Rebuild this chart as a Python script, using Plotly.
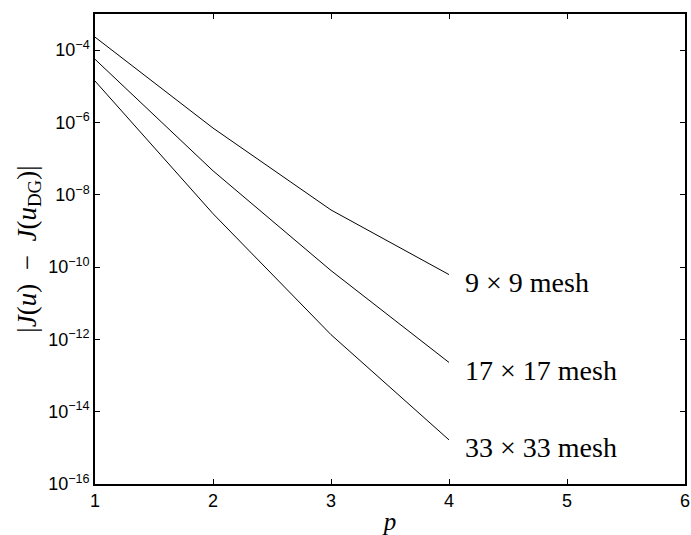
import plotly.graph_objects as go

p = [1, 2, 3, 4]
err_9 = [2.3e-4, 7.0e-7, 3.8e-9, 6.2e-11]
err_17 = [5.6e-5, 4.6e-8, 8.0e-11, 2.3e-13]
err_33 = [1.4e-5, 3.0e-9, 1.35e-12, 1.66e-15]
labels = ["9 × 9 mesh", "17 × 17 mesh", "33 × 33 mesh"]
label_y = [-10.43, -12.86, -14.99]  # log10 positions of the labels
ytick_exp = [-16, -14, -12, -10, -8, -6, -4]
xticks = [1, 2, 3, 4, 5, 6]

fig = go.Figure()
for ys in (err_9, err_17, err_33):
    fig.add_trace(go.Scatter(x=p, y=ys, mode="lines",
                             line=dict(color="black", width=1), showlegend=False))

for lab, ly in zip(labels, label_y):
    fig.add_annotation(x=4.12, y=ly, xref="x", yref="y", text=lab, showarrow=False,
                       xanchor="left", yanchor="middle",
                       font=dict(family="Liberation Serif", size=28, color="black"))

tickfont = dict(family="Liberation Sans", size=18, color="black")
fig.update_layout(
    width=691, height=535,
    margin=dict(l=95, r=1, t=14, b=51),
    plot_bgcolor="white", paper_bgcolor="white",
    xaxis=dict(range=[1, 6], tickvals=xticks, ticks="inside", ticklen=5,
               tickcolor="black", showline=True, linecolor="black", linewidth=1.5,
               mirror="ticks", showgrid=False, zeroline=False, tickfont=tickfont,
               ticklabeloverflow="allow",
               title=dict(text="<i>p</i>", font=dict(family="Liberation Serif", size=25, color="black"),
                          standoff=2)),
    yaxis=dict(type="log", range=[-16, -3],
               tickvals=[10.0 ** e for e in ytick_exp],
               ticktext=["10<sup>−%d</sup>" % (-e) for e in ytick_exp],
               ticks="inside", ticklen=5, tickcolor="black", showline=True,
               linecolor="black", linewidth=1.5, mirror="ticks", showgrid=False,
               zeroline=False, tickfont=tickfont,
               title=dict(text="|<i>J</i>(<i>u</i>)  −  <i>J</i>(<i>u</i><sub>DG</sub>)|",
                          font=dict(family="Liberation Serif", size=27, color="black"),
                          standoff=4)),
)
fig.write_html("out.html")
